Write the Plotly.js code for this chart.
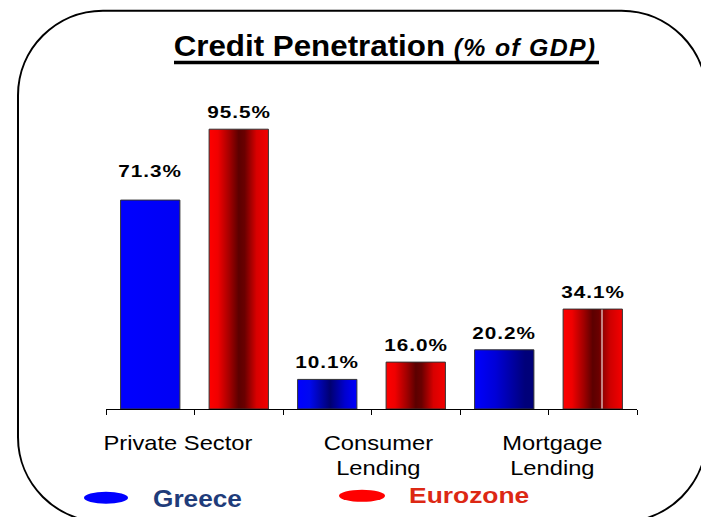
<!DOCTYPE html>
<html>
<head>
<meta charset="utf-8">
<script src="https://cdn.plot.ly/plotly-3.0.1.min.js"></script>
<style>
  html, body { margin: 0; padding: 0; background: #ffffff; }
  #chart { width: 701px; height: 517px; }
</style>
</head>
<body>
<div id="chart"></div>
<script>
// ---- data ----
var categories = ['Private Sector', 'Consumer<br>Lending', 'Mortgage<br>Lending'];
var seriesNames = ['Greece', 'Eurozone'];
var greece = [71.3, 10.1, 20.2];
var eurozone = [95.5, 16.0, 34.1];
var titleMain = 'Credit Penetration';
var titleSub = '(% of GDP)';

// ---- geometry helpers (plot area in pixels) ----
var W = 701, Hh = 517;
var L = 106, R = 637, B = 409, T = 115.5;
var PW = R - L, PH = B - T;
function px(x) { return (x - L) / PW; }
function py(y) { return (B - y) / PH; }

var FONT = 'Liberation Sans, Arial, sans-serif';

var gx = greece.map(function (v, i) { return 2 * i; });
var ex = eurozone.map(function (v, i) { return 2 * i + 1; });

var data = [
  {
    type: 'bar', name: seriesNames[0], x: gx, y: greece, width: 0.67,
    marker: { color: '#0000ff', line: { color: '#333333', width: 1 } },
    hoverinfo: 'skip'
  },
  {
    type: 'bar', name: seriesNames[1], x: ex, y: eurozone, width: 0.67,
    marker: { color: '#ff0000', line: { color: '#333333', width: 1 } },
    hoverinfo: 'skip'
  }
];

var annotations = [];
var stretch = [];   // horizontal stretch per annotation: [factor, origin]
function sp(txt, ls) { return '<span style="letter-spacing:' + ls + 'px">' + txt + '</span>'; }

// data labels
var lift = [[12, 0, 0], [0, 0, 0]];
[greece, eurozone].forEach(function (arr, s) {
  arr.forEach(function (v, i) {
    annotations.push({
      x: 2 * i + s, y: v, xref: 'x', yref: 'y',
      text: sp('<b>' + v.toFixed(1) + '%</b>', 0.8),
      showarrow: false, xanchor: 'center', yanchor: 'bottom',
      yshift: 5 + lift[s][i],
      font: { family: FONT, size: 17, color: '#000000' }
    });
    stretch.push([1.22, 'center']);
  });
});

// category labels (one annotation per line)
var catShift = [-17, 7, 4];
categories.forEach(function (c, i) {
  c.split('<br>').forEach(function (line, j) {
    annotations.push({
      x: 2 * i + 0.5, y: 0, xref: 'x', yref: 'paper',
      text: line, showarrow: false, xanchor: 'center', yanchor: 'top',
      xshift: catShift[i], yshift: -20 - 25 * j, align: 'center',
      font: { family: FONT, size: 21, color: '#000000' }
    });
    stretch.push([1.13, 'center']);
  });
});

// legend text
annotations.push({
  x: px(151), y: 0, xref: 'paper', yref: 'paper', xanchor: 'left', yanchor: 'middle',
  yshift: -(499 - B), showarrow: false,
  text: '<b>' + seriesNames[0] + '</b>',
  font: { family: FONT, size: 23, color: '#1f3c7a' }
});
stretch.push([1.14, 'left']);
annotations.push({
  x: px(407), y: 0, xref: 'paper', yref: 'paper', xanchor: 'left', yanchor: 'middle',
  yshift: -(495 - B), showarrow: false,
  text: '<b>' + seriesNames[1] + '</b>',
  font: { family: FONT, size: 22, color: '#dc2814' }
});
stretch.push([1.2, 'left']);

// rounded border path (pixel -> paper)
function roundRectPath(x0, y0, x1, y1, r) {
  var k = 0.5523 * r;
  function P(x, y) { return px(x) + ',' + py(y); }
  return 'M' + P(x0 + r, y0) +
    ' L' + P(x1 - r, y0) +
    ' C' + P(x1 - r + k, y0) + ' ' + P(x1, y0 + r - k) + ' ' + P(x1, y0 + r) +
    ' L' + P(x1, y1 - r) +
    ' C' + P(x1, y1 - r + k) + ' ' + P(x1 - r + k, y1) + ' ' + P(x1 - r, y1) +
    ' L' + P(x0 + r, y1) +
    ' C' + P(x0 + r - k, y1) + ' ' + P(x0, y1 - r + k) + ' ' + P(x0, y1 - r) +
    ' L' + P(x0, y0 + r) +
    ' C' + P(x0, y0 + r - k) + ' ' + P(x0 + r - k, y0) + ' ' + P(x0 + r, y0) + ' Z';
}

var shapes = [
  { type: 'path', xref: 'paper', yref: 'paper', path: roundRectPath(18, 10, 706.5, 522, 85),
    line: { color: '#000000', width: 2 }, fillcolor: 'rgba(0,0,0,0)' },
  { type: 'line', xref: 'paper', yref: 'paper', x0: px(174), x1: px(599), y0: py(62), y1: py(62),
    line: { color: '#000000', width: 3.5 } },
  { type: 'circle', xref: 'paper', yref: 'paper', x0: px(84), x1: px(128), y0: py(504), y1: py(492),
    fillcolor: '#0000ff', line: { width: 0 } },
  { type: 'circle', xref: 'paper', yref: 'paper', x0: px(339), x1: px(385), y0: py(502), y1: py(490),
    fillcolor: '#ff0000', line: { width: 0 } }
];

var layout = {
  width: W, height: Hh,
  margin: { l: L, r: W - R, t: T, b: Hh - B, pad: 0 },
  paper_bgcolor: '#ffffff', plot_bgcolor: '#ffffff',
  showlegend: false,
  barmode: 'overlay',
  title: {
    text: '<b>' + titleMain + '</b> ' +
      '<span style="font-size:23px;letter-spacing:1.2px"><b><i>' + titleSub + '</i></b></span>',
    font: { family: FONT, size: 29, color: '#000000' },
    x: 385 / W, xref: 'container', xanchor: 'center',
    y: 1 - 46 / Hh, yref: 'container', yanchor: 'middle'
  },
  xaxis: {
    range: [-0.5, 5.5], tickvals: [-0.5, 0.5, 1.5, 2.5, 3.5, 4.5, 5.5],
    showticklabels: false, ticks: 'outside', ticklen: 5, tickcolor: '#000000', tickwidth: 1,
    showline: true, linecolor: '#000000', linewidth: 1,
    showgrid: false, zeroline: false, fixedrange: true
  },
  yaxis: { range: [0, 100], visible: false, showgrid: false, zeroline: false, fixedrange: true },
  annotations: annotations,
  shapes: shapes
};

var gradients = {
  'g0_0': [[0, '#0000ff'], [1, '#0000f4']],
  'g0_1': [[0, '#0000ff'], [0.2, '#0008f0'], [0.55, '#000070'], [0.8, '#0000d0'], [1, '#0000ff']],
  'g0_2': [[0, '#0000ff'], [0.35, '#0000d8'], [0.85, '#00007a'], [1, '#000078']],
  'g1_0': [[0, '#ff0000'], [0.15, '#f00000'], [0.35, '#a00000'], [0.5, '#5c0000'], [0.6, '#6a0000'], [0.8, '#d80000'], [1, '#f40000']],
  'g1_1': [[0, '#ff0000'], [0.15, '#f00000'], [0.35, '#a00000'], [0.5, '#5c0000'], [0.6, '#6a0000'], [0.8, '#d80000'], [1, '#f40000']],
  'g1_2': [[0, '#ff0000'], [0.15, '#f00000'], [0.35, '#a00000'], [0.5, '#5c0000'], [0.6, '#6a0000'], [0.645, '#800000'],
           [0.65, '#ffffff'], [0.662, '#ffffff'], [0.667, '#900000'], [0.8, '#d00000'], [1, '#f40000']]
};

function stretchText(el, f, origin) {
  if (!el) return;
  el.style.transformBox = 'fill-box';
  el.style.transformOrigin = origin + ' center';
  el.style.transform = 'scaleX(' + f + ')';
}

Plotly.newPlot('chart', data, layout, { staticPlot: true }).then(function (gd) {
  var NS = 'http://www.w3.org/2000/svg';
  var svg = gd.querySelector('.main-svg');
  var defs = svg.querySelector('defs');
  if (!defs) { defs = document.createElementNS(NS, 'defs'); svg.insertBefore(defs, svg.firstChild); }
  Object.keys(gradients).forEach(function (id) {
    var g = document.createElementNS(NS, 'linearGradient');
    g.setAttribute('id', id);
    g.setAttribute('x1', '0'); g.setAttribute('y1', '0');
    g.setAttribute('x2', '1'); g.setAttribute('y2', '0');
    gradients[id].forEach(function (s) {
      var st = document.createElementNS(NS, 'stop');
      st.setAttribute('offset', s[0]);
      st.setAttribute('stop-color', s[1]);
      g.appendChild(st);
    });
    defs.appendChild(g);
  });
  gd.querySelectorAll('.barlayer .trace').forEach(function (tr, ti) {
    tr.querySelectorAll('.point path').forEach(function (p, pi) {
      p.style.fill = 'url(#g' + ti + '_' + pi + ')';
    });
  });
  // horizontal stretch of texts to match the reference's wide lettering
  gd.querySelectorAll('.annotation').forEach(function (a) {
    var idx = +a.getAttribute('data-index');
    var s = stretch[idx];
    if (s) stretchText(a.querySelector('text.annotation-text'), s[0], s[1]);
  });
  var tt = gd.querySelector('.gtitle');
  stretchText(tt, 1.08, 'center');
});
</script>
</body>
</html>
